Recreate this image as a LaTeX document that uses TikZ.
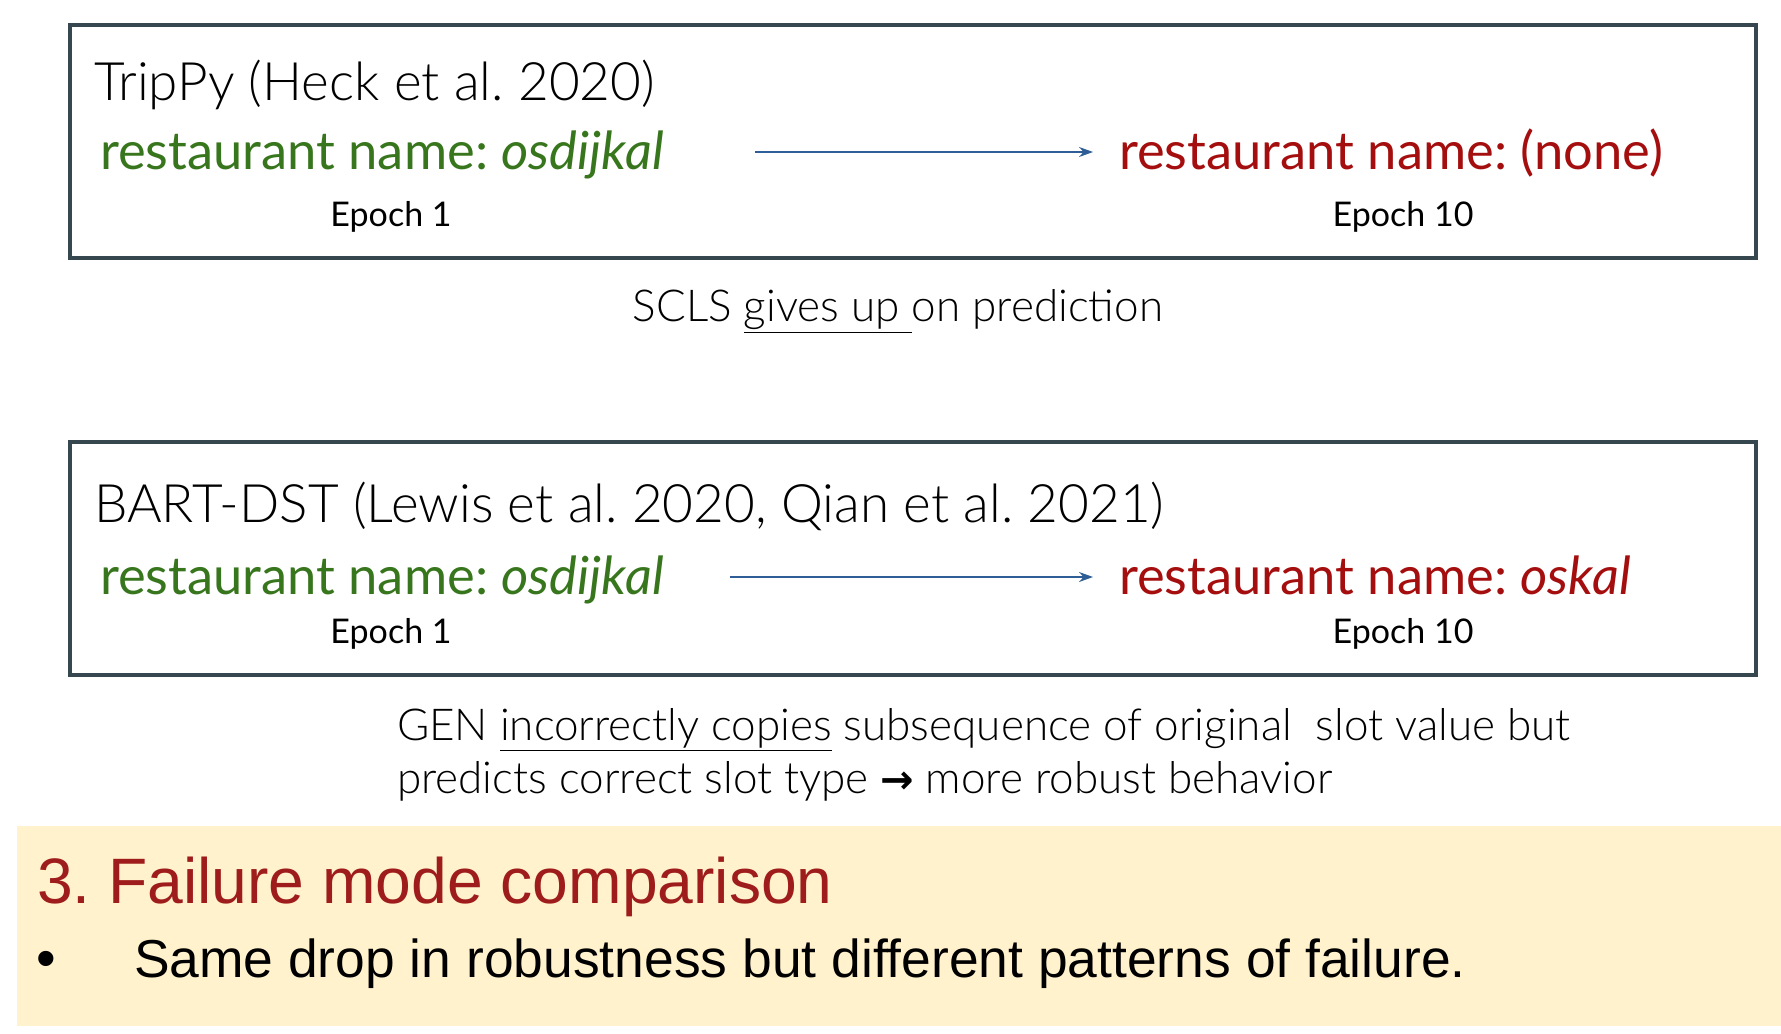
\documentclass[tikz,border=0pt]{standalone}
\usepackage{fontspec}
\setmainfont{Lato}
\newfontfamily\lightfont{Lato Light}
\newfontfamily\slidefont{Liberation Sans}
\newfontfamily\symbfont{DejaVu Sans}
\usetikzlibrary{arrows.meta,positioning}
\frenchspacing

\definecolor{boxgray}{HTML}{37474F}
\definecolor{slotgreen}{HTML}{38761D}
\definecolor{slotred}{HTML}{A50E0E}
\definecolor{arrowblue}{HTML}{2F5D95}
\definecolor{notebg}{HTML}{FFF2CC}
\definecolor{headred}{HTML}{9E1C1C}

\begin{document}
\begin{tikzpicture}[x=0.5pt, y=-0.5pt,
	every node/.style={inner sep=0pt, outer sep=0pt},
	modelbox/.style={draw=boxgray, line width=1.6pt},
	modeltitle/.style={anchor=base west, font=\lightfont\fontsize{26.5}{32}\selectfont},
	slot/.style={anchor=base west, font=\fontsize{26.25}{31}\selectfont},
	epoch/.style={anchor=base, font=\fontsize{17}{20}\selectfont},
	note/.style={font=\lightfont\fontsize{22}{27}\selectfont},
	slotarrow/.style={->, arrowblue, line width=0.7pt, shorten >=13pt},
	>={Stealth[length=7pt, width=5pt]}]
	\useasboundingbox (0,0) rectangle (1781,1033);
	% TripPy
	\draw[modelbox] (70,25) rectangle (1756,258);
	\node[modeltitle] (tripTitle) at (94,100) {TripPy (Heck et al. 2020)};
	\node[slot, text=slotgreen] (tripOld) at (100,169) {restaurant name: \textit{osdijkal}};
	\node[slot, text=slotred] (tripNew) at (1119,169) {restaurant name: (none)};
	\node[epoch] (tripEpA) at (391,226) {Epoch 1};
	\node[epoch] (tripEpB) at (1403,226) {Epoch 10};
	\coordinate (tripFrom) at (755,152);
	\draw[slotarrow] (tripFrom) -- (tripFrom -| tripNew.west);
	\node[note, anchor=base] (tripNote) at (898,321) {SCLS \underline{gives up\ }on prediction};
	% BART-DST
	\draw[modelbox] (70,442) rectangle (1756,675);
	\node[modeltitle] (bartTitle) at (94,522) {BART-DST (Lewis et al. 2020, Qian et al. 2021)};
	\node[slot, text=slotgreen] (bartOld) at (100,594) {restaurant name: \textit{osdijkal}};
	\node[slot, text=slotred] (bartNew) at (1119,594) {restaurant name: \textit{oskal}};
	\node[epoch] (bartEpA) at (391,643) {Epoch 1};
	\node[epoch] (bartEpB) at (1403,643) {Epoch 10};
	\coordinate (bartFrom) at (730,577);
	\draw[slotarrow] (bartFrom) -- (bartFrom -| bartNew.west);
	\node[note, anchor=base west] (bartNoteA) at (397,740) {GEN \underline{incorrectly copies} subsequence of original\ \ slot value but};
	\node[note, anchor=base west] (bartNoteB) at (397,793) {predicts correct slot type {\symbfont\bfseries\fontsize{20}{24}\selectfont →} more robust behavior};
	% summary band
	\fill[notebg] (17,826) rectangle (1781,1026);
	\node[anchor=base west, text=headred, font=\slidefont\fontsize{32.1}{38}\selectfont] (sumHead) at (37,903) {3. Failure mode comparison};
	\node[anchor=base, font=\slidefont\fontsize{28}{34}\selectfont] (sumDot) at (46,977) {•};
	\node[anchor=base west, font=\slidefont\fontsize{26.7}{32}\selectfont] (sumText) at (134,977) {Same drop in robustness but different patterns of failure.};
\end{tikzpicture}
\end{document}
